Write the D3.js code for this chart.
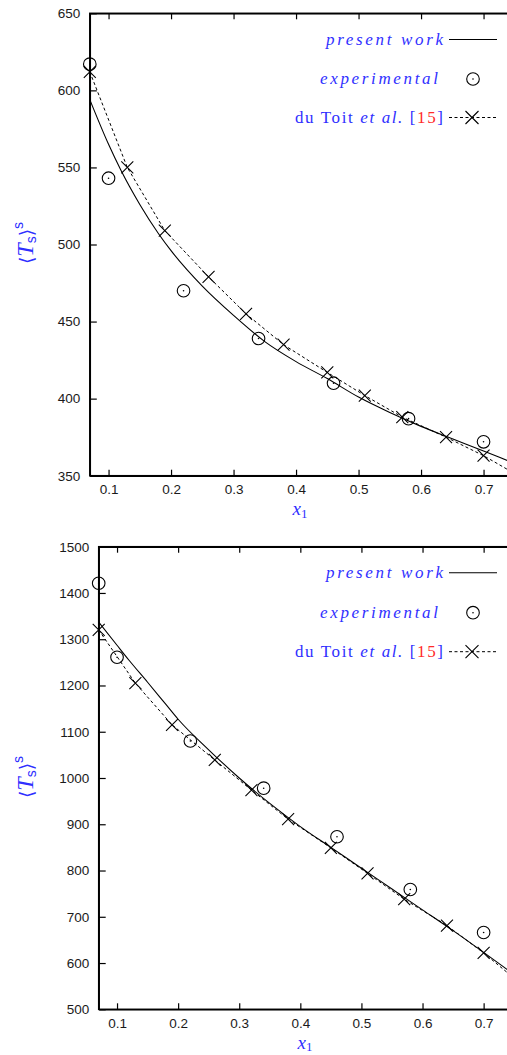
<!DOCTYPE html>
<html>
<head>
<meta charset="utf-8">
<script src="https://cdn.jsdelivr.net/npm/d3@7"></script>
<style>
  html, body { margin: 0; padding: 0; background: #fff; }
  svg { display: block; }
</style>
</head>
<body>
<svg id="chart" width="507" height="1055"></svg>
<script>
// ---------------- DATA ----------------
const xTickValues = [0.1, 0.2, 0.3, 0.4, 0.5, 0.6, 0.7];
const yTicksTop = [350, 400, 450, 500, 550, 600, 650];
const yTicksBottom = [500, 600, 700, 800, 900, 1000, 1100, 1200, 1300, 1400, 1500];

// present work (solid curve)
const xPresent = [0.07, 0.10, 0.12, 0.15, 0.18, 0.20, 0.25, 0.30, 0.35, 0.40, 0.45, 0.50, 0.55, 0.60, 0.65, 0.70, 0.75];
const presentTop = [594, 565, 548, 526, 507, 496, 473, 454, 437, 424, 413, 401, 391, 382, 374, 366, 358];
const presentBottom = [1337, 1287, 1254, 1207, 1159, 1127, 1061, 1000, 945, 895, 850, 805, 760, 715, 670, 623, 575];

// experimental (circles)
const xExperimental = [0.07, 0.10, 0.22, 0.34, 0.46, 0.58, 0.70];
const experimentalTop = [617, 543, 470, 439, 410, 387, 372];
const experimentalBottom = [1421, 1261, 1080, 978, 873, 759, 666];

// du Toit et al. [15] (dashed + crosses)
const xDuToit = [0.07, 0.13, 0.19, 0.26, 0.32, 0.38, 0.45, 0.51, 0.57, 0.64, 0.70, 0.76];
const duToitTop = [612, 550, 509, 479, 455, 435, 417, 402, 388, 375, 363, 349];
const duToitBottom = [1320, 1205, 1115, 1039, 974, 911, 849, 794, 738, 681, 622, 556];

const legendLabels = ["present work", "experimental"];

// ---------------- DRAW ----------------
const BLUE = "#2f2fff";
const RED = "#ff2a2a";
const svg = d3.select("#chart");

function zip(xs, ys) { return xs.map((x, i) => ({x: x, y: ys[i]})); }

function crossPath(cx, cy, s) {
  return `M${cx - s},${cy - s}L${cx + s},${cy + s}M${cx - s},${cy + s}L${cx + s},${cy - s}`;
}

function drawPanel(cfg, idx) {
  const x = d3.scaleLinear().domain([0.07, 0.75]).range([cfg.left, cfg.left + 0.68 * cfg.ppu]);
  const y = d3.scaleLinear().domain(cfg.yDomain).range([cfg.bottom, cfg.top]);
  const g = svg.append("g");

  const clipId = "clip" + idx;
  svg.append("clipPath").attr("id", clipId)
    .append("rect")
    .attr("x", x.range()[0]).attr("y", cfg.top)
    .attr("width", x.range()[1] - x.range()[0]).attr("height", cfg.bottom - cfg.top);

  // axes
  const axL = g.append("g").attr("transform", `translate(${cfg.left},0)`)
    .call(d3.axisLeft(y).tickValues(cfg.yTicks).tickSize(-7).tickSizeOuter(0).tickPadding(cfg.yPad).tickFormat(d3.format("d")));
  const axB = g.append("g").attr("transform", `translate(0,${cfg.bottom})`)
    .call(d3.axisBottom(x).tickValues(xTickValues).tickSize(-6).tickSizeOuter(0).tickPadding(cfg.xPad).tickFormat(d3.format(".1f")));
  const axT = g.append("g").attr("transform", `translate(0,${cfg.top})`)
    .call(d3.axisTop(x).tickValues(xTickValues).tickSize(-6).tickSizeOuter(0).tickFormat(""));
  [axL, axB, axT].forEach(a => {
    a.selectAll("text").attr("font-family", "'Liberation Sans', Arial, sans-serif")
      .attr("font-size", 13.5).attr("fill", "#1a1a1a");
    a.selectAll("line").attr("stroke", "#000").attr("stroke-width", 1.2);
    a.select(".domain").attr("stroke", "#000").attr("stroke-width", 1.5);
  });
  // frame
  g.append("rect")
    .attr("x", x.range()[0]).attr("y", cfg.top)
    .attr("width", x.range()[1] - x.range()[0]).attr("height", cfg.bottom - cfg.top)
    .attr("fill", "none").attr("stroke", "#000").attr("stroke-width", 1.5);

  const plot = g.append("g").attr("clip-path", `url(#${clipId})`);

  const line = d3.line().x(d => x(d.x)).y(d => y(d.y)).curve(d3.curveMonotoneX);
  const lineStraight = d3.line().x(d => x(d.x)).y(d => y(d.y));

  // present work
  plot.append("path").datum(zip(xPresent, cfg.present))
    .attr("d", line).attr("fill", "none").attr("stroke", "#000").attr("stroke-width", 1.1);

  // du Toit dashed
  const du = zip(xDuToit, cfg.duToit);
  plot.append("path").datum(du)
    .attr("d", lineStraight).attr("fill", "none").attr("stroke", "#000")
    .attr("stroke-width", 1).attr("stroke-dasharray", "3,2.5");
  const inDomain = d => d.x <= x.domain()[1];
  g.selectAll("path.cross").data(du.filter(inDomain)).enter().append("path")
    .attr("class", "cross")
    .attr("d", d => crossPath(x(d.x), y(d.y), 6))
    .attr("stroke", "#000").attr("stroke-width", 1.1).attr("fill", "none");

  // experimental
  const ex = zip(xExperimental, cfg.experimental);
  const eg = g.selectAll("g.exp").data(ex.filter(inDomain)).enter().append("g").attr("class", "exp")
    .attr("transform", d => `translate(${x(d.x)},${y(d.y)})`);
  eg.append("circle").attr("r", 6.3).attr("fill", "none").attr("stroke", "#000").attr("stroke-width", 1.1);
  eg.append("circle").attr("r", 0.8).attr("fill", "#000");

  // legend
  const serif = "'Liberation Serif', 'Times New Roman', serif";
  const ly = cfg.legendY;
  g.append("text").attr("x", 443).attr("y", ly[0] + 5).attr("text-anchor", "end")
    .attr("font-family", serif).attr("font-style", "italic").attr("font-size", 17)
    .attr("fill", BLUE).attr("textLength", 117).attr("lengthAdjust", "spacing")
    .text(legendLabels[0]);
  g.append("line").attr("x1", 449).attr("x2", 497).attr("y1", ly[0]).attr("y2", ly[0])
    .attr("stroke", "#000").attr("stroke-width", 1.1);

  g.append("text").attr("x", 438).attr("y", ly[1] + 5).attr("text-anchor", "end")
    .attr("font-family", serif).attr("font-style", "italic").attr("font-size", 17)
    .attr("fill", BLUE).attr("textLength", 118).attr("lengthAdjust", "spacing")
    .text(legendLabels[1]);
  g.append("circle").attr("cx", 473).attr("cy", ly[1]).attr("r", 6.3)
    .attr("fill", "none").attr("stroke", "#000").attr("stroke-width", 1.1);
  g.append("circle").attr("cx", 473).attr("cy", ly[1]).attr("r", 0.8).attr("fill", "#000");

  const t3 = g.append("text").attr("x", 443).attr("y", ly[2] + 5).attr("text-anchor", "end")
    .attr("font-family", serif).attr("font-size", 17).attr("fill", BLUE)
    .attr("textLength", 148).attr("lengthAdjust", "spacing");
  t3.append("tspan").text("du Toit ");
  t3.append("tspan").attr("font-style", "italic").text("et al.");
  t3.append("tspan").text(" [");
  t3.append("tspan").attr("fill", RED).text("15");
  t3.append("tspan").text("]");
  g.append("line").attr("x1", 449).attr("x2", 497).attr("y1", ly[2]).attr("y2", ly[2])
    .attr("stroke", "#000").attr("stroke-width", 1).attr("stroke-dasharray", "3,2.5");
  g.append("path").attr("d", crossPath(472, ly[2], 6.5))
    .attr("stroke", "#000").attr("stroke-width", 1.1).attr("fill", "none");

  // x label
  const xl = g.append("text").attr("x", cfg.xLabelX).attr("y", cfg.xLabelY)
    .attr("text-anchor", "middle").attr("font-family", serif).attr("fill", BLUE);
  xl.append("tspan").attr("font-style", "italic").attr("font-size", 19).text("x");
  xl.append("tspan").attr("font-size", 13).attr("dy", 2.5).text("1");

  // y label
  const yl = g.append("text")
    .attr("transform", `translate(${cfg.yLabelX},${cfg.yLabelY}) rotate(-90)`)
    .attr("text-anchor", "middle").attr("font-family", serif).attr("fill", BLUE)
    .attr("font-size", 24);
  yl.append("tspan").attr("font-family", "'DejaVu Serif', serif").attr("font-size", 19).text("\u27E8");
  yl.append("tspan").attr("font-style", "italic").text("T");
  yl.append("tspan").attr("font-family", "'Liberation Sans', sans-serif").attr("font-size", 14).attr("dy", 3).text("s");
  yl.append("tspan").attr("font-family", "'DejaVu Serif', serif").attr("font-size", 19).attr("dy", -3).text("\u27E9");
  yl.append("tspan").attr("font-family", "'Liberation Sans', sans-serif").attr("font-size", 14).attr("dy", -10).text("s");
}

drawPanel({
  left: 89.8, ppu: 625, top: 13.3, bottom: 475.7,
  yDomain: [350, 650], yTicks: yTicksTop, yPad: 9.5, xPad: 9,
  present: presentTop, experimental: experimentalTop, duToit: duToitTop,
  legendY: [39.5, 79, 117.5],
  xLabelX: 300, xLabelY: 515,
  yLabelX: 33, yLabelY: 243
}, 0);

drawPanel({
  left: 98.7, ppu: 611, top: 546.7, bottom: 1009.3,
  yDomain: [500, 1500], yTicks: yTicksBottom, yPad: 9.5, xPad: 9.5,
  present: presentBottom, experimental: experimentalBottom, duToit: duToitBottom,
  legendY: [572.7, 612.7, 651.7],
  xLabelX: 305, xLabelY: 1048.5,
  yLabelX: 33, yLabelY: 777
}, 1);
</script>
</body>
</html>
